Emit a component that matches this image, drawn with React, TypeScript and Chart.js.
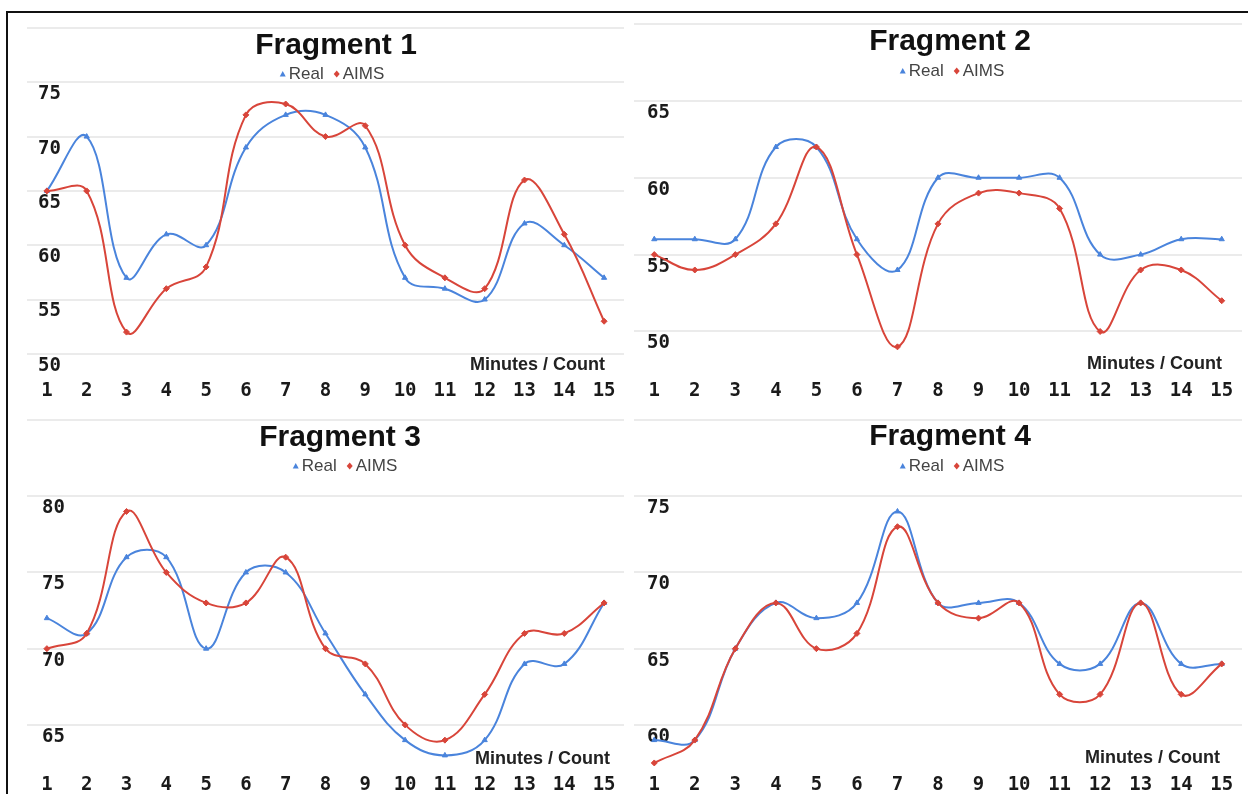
import React, { useEffect, useRef } from 'react';
import { Chart, registerables } from 'chart.js';

Chart.register(...registerables);

// ---------- data ----------
const minutes = ['1', '2', '3', '4', '5', '6', '7', '8', '9', '10', '11', '12', '13', '14', '15'];

const fragment1Real = [65, 70, 57, 61, 60, 69, 72, 72, 69, 57, 56, 55, 62, 60, 57];
const fragment1Aims = [65, 65, 52, 56, 58, 72, 73, 70, 71, 60, 57, 56, 66, 61, 53];

const fragment2Real = [56, 56, 56, 62, 62, 56, 54, 60, 60, 60, 60, 55, 55, 56, 56];
const fragment2Aims = [55, 54, 55, 57, 62, 55, 49, 57, 59, 59, 58, 50, 54, 54, 52];

const fragment3Real = [72, 71, 76, 76, 70, 75, 75, 71, 67, 64, 63, 64, 69, 69, 73];
const fragment3Aims = [70, 71, 79, 75, 73, 73, 76, 70, 69, 65, 64, 67, 71, 71, 73];

const fragment4Real = [59, 59, 65, 68, 67, 68, 74, 68, 68, 68, 64, 64, 68, 64, 64];
const fragment4Aims = [57.5, 59, 65, 68, 65, 66, 73, 68, 67, 68, 62, 62, 68, 62, 64];

const fragment1Grid = [50, 55, 60, 65, 70, 75, 80];
const fragment1TickLabels = ['50', '55', '60', '65', '70', '75'];
const fragment2Grid = [50, 55, 60, 65, 70];
const fragment2TickLabels = ['50', '55', '60', '65'];
const fragment3Grid = [65, 70, 75, 80, 85];
const fragment3TickLabels = ['65', '70', '75', '80'];
const fragment4Grid = [60, 65, 70, 75, 80];
const fragment4TickLabels = ['60', '65', '70', '75'];

const titles = ['Fragment 1', 'Fragment 2', 'Fragment 3', 'Fragment 4'];
const seriesNames = ['Real', 'AIMS'];
const axisTitle = 'Minutes / Count';

// ---------- styles / layout ----------
const BLUE = '#4a84dc';
const RED = '#d8453a';
const GRID = '#ebebeb';
const MONO = '"DejaVu Sans Mono", monospace';
const SANS = '"Liberation Sans", Arial, sans-serif';

type Panel = {
  title: string;
  real: number[];
  aims: number[];
  grid: number[];
  tickLabels: string[];
  box: { left: number; top: number; width: number; height: number };
  area: { left: number; right: number; top: number; bottom: number };
  yMin: number;
  yMax: number;
  yPad: number;
  xPad: number;
  titlePos: [number, number];
  legendPos: [number, number];
  axisTitlePos: [number, number];
};

const panels: Panel[] = [
  {
    title: titles[0], real: fragment1Real, aims: fragment1Aims, grid: fragment1Grid, tickLabels: fragment1TickLabels,
    box: { left: 0, top: 0, width: 629, height: 402 },
    area: { left: 27, right: 625, top: 28, bottom: 356 },
    yMin: 49.8, yMax: 80, yPad: 11, xPad: 16,
    titlePos: [336, 54], legendPos: [332, 74], axisTitlePos: [605, 365],
  },
  {
    title: titles[1], real: fragment2Real, aims: fragment2Aims, grid: fragment2Grid, tickLabels: fragment2TickLabels,
    box: { left: 629, top: 0, width: 619, height: 402 },
    area: { left: 4, right: 613, top: 24, bottom: 353 },
    yMin: 48.6, yMax: 70, yPad: 13, xPad: 19,
    titlePos: [321, 50], legendPos: [323, 71], axisTitlePos: [593, 364],
  },
  {
    title: titles[2], real: fragment3Real, aims: fragment3Aims, grid: fragment3Grid, tickLabels: fragment3TickLabels,
    box: { left: 0, top: 397, width: 629, height: 397 },
    area: { left: 27, right: 625, top: 23, bottom: 366 },
    yMin: 62.5, yMax: 85, yPad: 15, xPad: 3,
    titlePos: [340, 49], legendPos: [345, 69], axisTitlePos: [610, 362],
  },
  {
    title: titles[3], real: fragment4Real, aims: fragment4Aims, grid: fragment4Grid, tickLabels: fragment4TickLabels,
    box: { left: 629, top: 397, width: 619, height: 397 },
    area: { left: 4, right: 613, top: 23, bottom: 369 },
    yMin: 57.3, yMax: 80, yPad: 13, xPad: 0,
    titlePos: [321, 48], legendPos: [323, 69], axisTitlePos: [591, 361],
  },
];

function drawMarker(ctx: CanvasRenderingContext2D, kind: string, cx: number, cy: number, color: string) {
  ctx.save();
  ctx.fillStyle = color;
  ctx.beginPath();
  if (kind === 'triangle') {
    ctx.moveTo(cx, cy - 3);
    ctx.lineTo(cx + 3, cy + 2.5);
    ctx.lineTo(cx - 3, cy + 2.5);
  } else {
    ctx.moveTo(cx, cy - 3.5);
    ctx.lineTo(cx + 3, cy);
    ctx.lineTo(cx, cy + 3.5);
    ctx.lineTo(cx - 3, cy);
  }
  ctx.closePath();
  ctx.fill();
  ctx.restore();
}

function makeOverlay(p: Panel) {
  return {
    id: 'fragmentOverlay',
    afterDraw(chart: any) {
      const ctx: CanvasRenderingContext2D = chart.ctx;
      ctx.save();
      // title
      ctx.fillStyle = '#111111';
      ctx.font = `bold 30px ${SANS}`;
      ctx.textAlign = 'center';
      ctx.textBaseline = 'alphabetic';
      ctx.fillText(p.title, p.titlePos[0], p.titlePos[1]);

      // legend
      ctx.font = `17px ${SANS}`;
      const w1 = ctx.measureText(seriesNames[0]).width;
      const w2 = ctx.measureText(seriesNames[1]).width;
      const mk = 6, gap = 3, sep = 10;
      const total = mk + gap + w1 + sep + mk + gap + w2;
      let x = p.legendPos[0] - total / 2;
      const y = p.legendPos[1];
      drawMarker(ctx, 'triangle', x + mk / 2, y, BLUE);
      x += mk + gap;
      ctx.textAlign = 'left';
      ctx.textBaseline = 'middle';
      ctx.fillStyle = '#444444';
      ctx.fillText(seriesNames[0], x, y);
      x += w1 + sep;
      drawMarker(ctx, 'diamond', x + mk / 2, y, RED);
      x += mk + gap;
      ctx.fillText(seriesNames[1], x, y);

      // axis title
      ctx.font = `bold 18px ${SANS}`;
      ctx.fillStyle = '#222222';
      ctx.textAlign = 'right';
      ctx.textBaseline = 'middle';
      ctx.fillText(axisTitle, p.axisTitlePos[0], p.axisTitlePos[1]);
      ctx.restore();
    },
  };
}

function FragmentChart({ panel }: { panel: Panel }) {
  const ref = useRef<HTMLCanvasElement>(null);
  useEffect(() => {
    const p = panel;
    const chart = new Chart(ref.current as HTMLCanvasElement, {
      type: 'line',
      data: {
        labels: minutes,
        datasets: [
          {
            label: seriesNames[0],
            data: p.real,
            borderColor: BLUE,
            backgroundColor: BLUE,
            borderWidth: 2,
            tension: 0.4,
            pointStyle: 'triangle',
            pointRadius: 3,
            pointBorderWidth: 1,
            clip: false,
            order: 1,
          } as any,
          {
            label: seriesNames[1],
            data: p.aims,
            borderColor: RED,
            backgroundColor: RED,
            borderWidth: 2,
            tension: 0.4,
            pointStyle: 'rectRot',
            pointRadius: 3,
            pointBorderWidth: 1,
            clip: false,
            order: 0,
          } as any,
        ],
      },
      options: {
        animation: false,
        responsive: false,
        events: [],
        layout: {
          padding: {
            left: p.area.left,
            right: p.box.width - p.area.right,
            top: p.area.top,
            bottom: 0,
          },
        },
        plugins: {
          legend: { display: false },
          title: { display: false },
          tooltip: { enabled: false },
        },
        scales: {
          x: {
            offset: true,
            grid: { display: false },
            border: { display: false },
            ticks: {
              autoSkip: false,
              maxRotation: 0,
              padding: p.xPad,
              color: '#1a1a1a',
              font: { family: MONO, size: 19, weight: 'bold' },
            },
            afterFit: (s: any) => {
              s.height = p.box.height - p.area.bottom;
              s.paddingLeft = 0; s.paddingRight = 0; s.paddingTop = 0; s.paddingBottom = 0;
            },
          },
          y: {
            min: p.yMin,
            max: p.yMax,
            grid: { color: GRID, lineWidth: 2, drawTicks: false },
            border: { display: false },
            ticks: {
              mirror: true,
              padding: p.yPad,
              labelOffset: 12,
              color: '#1a1a1a',
              font: { family: MONO, size: 19, weight: 'bold' },
              callback: (v: any) => (p.tickLabels.includes(String(v)) ? String(v) : ''),
            },
            afterBuildTicks: (s: any) => {
              s.ticks = p.grid.map((v) => ({ value: v }));
            },
            afterFit: (s: any) => {
              s.width = 0;
              s.paddingLeft = 0; s.paddingRight = 0; s.paddingTop = 0; s.paddingBottom = 0;
            },
          },
        },
      } as any,
      plugins: [makeOverlay(p) as any],
    });
    return () => chart.destroy();
  }, [panel]);

  return (
    <canvas
      ref={ref}
      width={panel.box.width}
      height={panel.box.height}
      style={{
        position: 'absolute',
        left: panel.box.left,
        top: panel.box.top,
        width: panel.box.width,
        height: panel.box.height,
        display: 'block',
      }}
    />
  );
}

export default function App() {
  return (
    <div
      style={{
        position: 'absolute',
        left: 0,
        top: 0,
        width: 1248,
        height: 794,
        overflow: 'hidden',
        background: '#ffffff',
      }}
    >
      {panels.map((p, i) => (
        <FragmentChart key={i} panel={p} />
      ))}
      <div
        style={{
          position: 'absolute',
          left: 6,
          top: 11,
          width: 1400,
          height: 1000,
          border: '2px solid #111111',
          pointerEvents: 'none',
        }}
      />
    </div>
  );
}
